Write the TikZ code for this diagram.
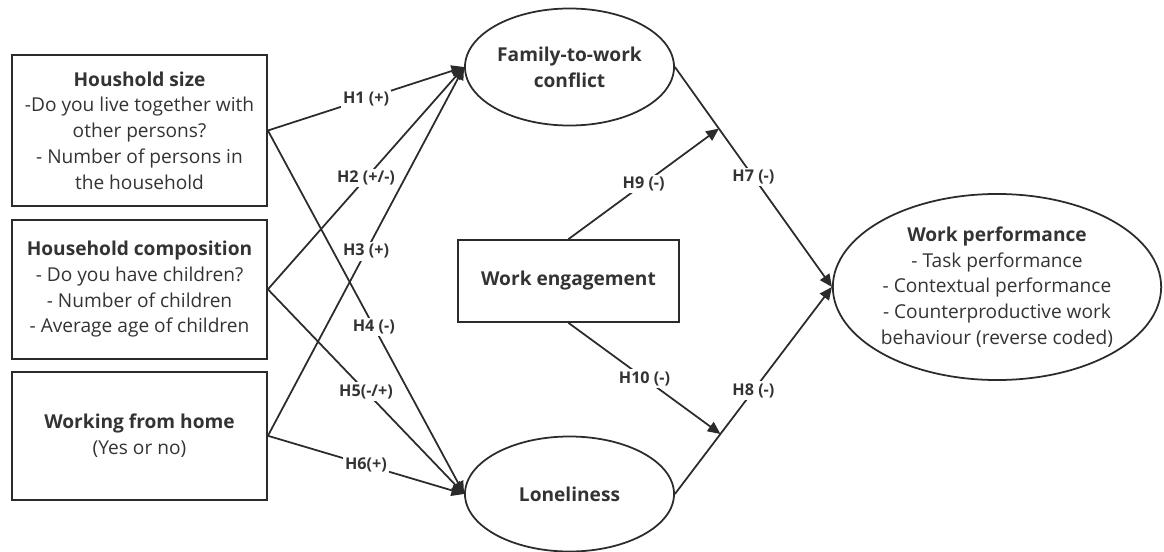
\documentclass[tikz,border=0pt]{standalone}
\usepackage{fontspec}
\setmainfont{Open Sans}
\usetikzlibrary{shapes.geometric, arrows.meta, positioning, calc}
\definecolor{LineGray}{HTML}{2B2B2B}
\definecolor{TextGray}{HTML}{333333}
\tikzset{
  % Box styles
  varbox/.style={rectangle, draw=LineGray, line width=1.25pt, minimum width=6.375cm, align=center, text=TextGray, font=\fontsize{13.6}{18.3}\selectfont, inner sep=0pt},
  latentnode/.style={ellipse, draw=LineGray, line width=1.25pt, align=center, text=TextGray, font=\fontsize{13.6}{18.3}\selectfont, inner sep=0pt},
  % Arrow styles
  arrow/.style={-{Triangle[length=9pt,width=8pt]}, line width=1.25pt, LineGray},
  % Label styles
  hyplabel/.style={fill=white, inner sep=1.5pt, text=TextGray, font=\fontsize{11.5}{13}\selectfont\bfseries}
}

\begin{document}
\begin{tikzpicture}[x=0.025cm, y=-0.025cm]
  \useasboundingbox (0,0) rectangle (1164,552);

  % Household variables
  \node[varbox, minimum height=3.775cm] (size) at (139.5,130.5) {
    \textbf{Houshold size}\\
    -Do you live together with\\other persons?\\
    - Number of persons in\\the household
  };
  \node[varbox, minimum height=3.475cm, below=0.3cm of size] (comp) {
    \textbf{Household composition}\\
    - Do you have children?\\
    - Number of children\\
    - Average age of children
  };
  \node[varbox, minimum height=3.2cm, below=0.28cm of comp] (home) {
    \textbf{Working from home}\\
    (Yes or no)
  };

  % Mediators and moderator
  \node[latentnode, minimum width=5.225cm, minimum height=2.925cm] (ftw) at (569.5,67) {\textbf{Family-to-work}\\\textbf{conflict}};
  \node[latentnode, minimum width=5.225cm, minimum height=2.875cm] (lonely) at (569.5,494) {\textbf{Loneliness}};
  \node[varbox, minimum width=5.525cm, minimum height=2.05cm] (engage) at (568.5,281) {\textbf{Work engagement}};

  % Outcome
  \node[latentnode, minimum width=8.15cm, minimum height=4.65cm] (perf) at (997,287) {
    \textbf{Work performance}\\
    - Task performance\\
    - Contextual performance\\
    - Counterproductive work\\
    behaviour (reverse coded)
  };

  % Paths to the mediators
  \draw[arrow] (size.east) -- node[hyplabel] {H1 (+)} (ftw.west);
  \draw[arrow] (comp.east) -- node[hyplabel] {H2 (+/-)} (ftw.west);
  \draw[arrow] (home.east) -- node[hyplabel] {H3 (+)} (ftw.west);
  \draw[arrow] (size.east) -- node[hyplabel, pos=0.54] {H4 (-)} (lonely.west);
  \draw[arrow] (comp.east) -- node[hyplabel] {H5(-/+)} (lonely.west);
  \draw[arrow] (home.east) -- node[hyplabel] {H6(+)} (lonely.west);

  % Paths to the outcome
  \draw[arrow] (ftw.east) -- node[hyplabel] {H7 (-)} (perf.west);
  \draw[arrow] (lonely.east) -- node[hyplabel] {H8 (-)} (perf.west);

  % Moderation
  \coordinate (modtop) at ($(ftw.east)!0.28!(perf.west)$);
  \coordinate (modbot) at ($(lonely.east)!0.29!(perf.west)$);
  \draw[arrow] (engage.north) -- node[hyplabel] {H9 (-)} (modtop);
  \draw[arrow] (engage.south) -- node[hyplabel] {H10 (-)} (modbot);
\end{tikzpicture}
\end{document}
